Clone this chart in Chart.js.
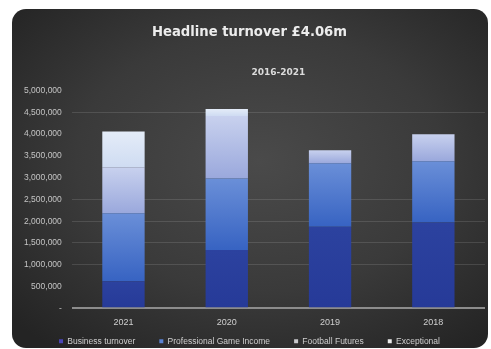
<!DOCTYPE html>
<html>
<head>
<meta charset="utf-8">
<script src="https://cdn.jsdelivr.net/npm/chart.js@4"></script>
<style>
  html, body { margin: 0; padding: 0; background: #fff; }
  body { width: 491px; height: 349px; position: relative; overflow: hidden; }
  #panel {
    position: absolute; left: 12px; top: 9px; width: 476px; height: 339px;
    border-radius: 14px; overflow: hidden;
    background: radial-gradient(ellipse 70% 70% at 52% 45%, #4a4a4a 0%, #3a3a3a 55%, #242424 100%);
  }
  #chart { display: block; }
</style>
</head>
<body>
<div id="panel"><canvas id="chart" width="476" height="339"></canvas></div>
<script>
// Data
const years = ['2021', '2020', '2019', '2018'];
const businessTurnover = [620000, 1340000, 1870000, 1970000];
const professionalGame = [1560000, 1640000, 1460000, 1410000];
const footballFutures = [1060000, 1440000, 300000, 620000];
const exceptional = [820000, 160000, 0, 0];
const seriesNames = ['Business turnover', 'Professional Game Income', 'Football Futures', 'Exceptional'];
const legendColors = ['#4b46b8', '#5a82d2', '#c9c9cc', '#ececec'];
// bottom / top colour of each segment
const segColors = [
    ['#263a98', '#2c429f'],
    ['#3763c2', '#6a8fd8'],
    ['#9aa8dc', '#c8d1ee'],
    ['#cfdcf2', '#e4ecf8']
];
const allSeries = [businessTurnover, professionalGame, footballFutures, exceptional];
const gridShown = [4500000, 2500000, 2000000, 1500000, 1000000];

function segmentFill(di) {
    return function(ctx) {
        const chart = ctx.chart;
        const area = chart.chartArea;
        if (!area || ctx.dataIndex === undefined) return segColors[di][0];
        const i = ctx.dataIndex;
        let start = 0;
        for (let k = 0; k < di; k++) start += allSeries[k][i];
        const end = start + allSeries[di][i];
        const y = chart.scales.y;
        const y0 = y.getPixelForValue(start), y1 = y.getPixelForValue(end);
        if (!isFinite(y0) || !isFinite(y1) || y0 === y1) return segColors[di][0];
        const g = chart.ctx.createLinearGradient(0, y0, 0, y1);
        g.addColorStop(0, segColors[di][0]);
        g.addColorStop(1, segColors[di][1]);
        return g;
    };
}

const datasets = allSeries.map((vals, di) => ({
    label: seriesNames[di],
    data: vals,
    backgroundColor: segmentFill(di),
    borderWidth: 0,
    barPercentage: 0.41,
    categoryPercentage: 1.0
}));

// legend takes little room in the layout, then its row is placed near the bottom edge
const legendTweak = {
    id: 'legendTweak',
    beforeInit(chart) {
        const lg = chart.legend;
        const fit = lg.fit;
        lg.fit = function() {
            fit.call(this);
            this.height = 9;
        };
    },
    afterUpdate(chart) {
        const lg = chart.legend;
        lg.bottom = chart.height;
        lg.top = lg.bottom - 35;
    }
};

new Chart(document.getElementById('chart'), {
    type: 'bar',
    data: { labels: years, datasets: datasets },
    plugins: [legendTweak],
    options: {
        responsive: false,
        animation: false,
        layout: { padding: { left: 2, right: 3, bottom: 2 } },
        plugins: {
            title: {
                display: true,
                text: 'Headline turnover £4.06m',
                color: '#ececec',
                font: { family: 'DejaVu Sans', size: 13.2, weight: 'bold' },
                padding: { top: 16, bottom: 0 }
            },
            subtitle: {
                display: true,
                fullSize: false,
                text: '2016-2021',
                color: '#dcdcdc',
                font: { family: 'DejaVu Sans', size: 9, weight: 'bold' },
                padding: { top: 26, bottom: 13 }
            },
            legend: {
                position: 'bottom',
                labels: {
                    color: '#cfcfcf',
                    font: { family: 'Liberation Sans', size: 8.5 },
                    boxWidth: 4,
                    boxHeight: 4,
                    padding: 24,
                    generateLabels: () => seriesNames.map((n, i) => ({
                        text: n, fillStyle: legendColors[i], strokeStyle: legendColors[i],
                        lineWidth: 0, fontColor: '#cfcfcf', datasetIndex: i, hidden: false
                    }))
                }
            },
            tooltip: { enabled: false }
        },
        scales: {
            x: {
                stacked: true,
                grid: { display: false, drawTicks: false },
                border: { display: false },
                ticks: { color: '#cfcfcf', font: { family: 'Liberation Sans', size: 9 }, padding: 9 }
            },
            y: {
                stacked: true,
                min: 0,
                max: 5000000,
                border: { display: false },
                grid: {
                    drawTicks: false,
                    color: c => c.tick && c.tick.value === 0 ? '#8c8c8c'
                        : (c.tick && gridShown.includes(c.tick.value) ? 'rgba(255,255,255,0.12)' : 'rgba(0,0,0,0)'),
                    lineWidth: c => c.tick && c.tick.value === 0 ? 2 : 1
                },
                ticks: {
                    stepSize: 500000,
                    padding: 10,
                    color: '#c4c4c4',
                    font: { family: 'Liberation Sans', size: 8.5 },
                    callback: v => v === 0 ? '-' : v.toLocaleString('en-GB')
                }
            }
        }
    }
});
</script>
</body>
</html>
